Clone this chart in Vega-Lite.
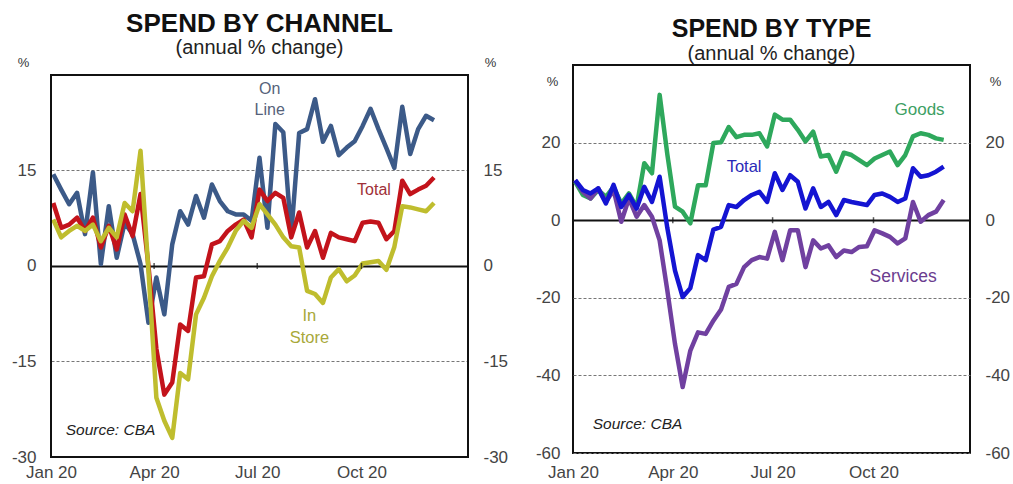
{
  "$schema": "https://vega.github.io/schema/vega-lite/v6.json",
  "padding": {"left": 11, "top": 11, "right": 5, "bottom": 0},
  "spacing": 26,
  "datasets": {
    "w": [
      {"date": "2020-01-03", "online": 14.4, "total_ch": 9.9, "instore": 7.3, "goods": 9.9, "total_ty": 10.3, "services": 10.3},
      {"date": "2020-01-10", "online": 12, "total_ch": 6, "instore": 4.5, "goods": 6.5, "total_ty": 7.8, "services": 7.3},
      {"date": "2020-01-17", "online": 9.7, "total_ch": 6.5, "instore": 5.5, "goods": 5.6, "total_ty": 6.9, "services": 5.6},
      {"date": "2020-01-24", "online": 11.5, "total_ch": 7.6, "instore": 6.3, "goods": 7.8, "total_ty": 8.2, "services": 8.2},
      {"date": "2020-01-31", "online": 5, "total_ch": 5.5, "instore": 5.5, "goods": 6, "total_ty": 4.3, "services": 4.7},
      {"date": "2020-02-07", "online": 14.7, "total_ch": 7.6, "instore": 6.5, "goods": 8.6, "total_ty": 9.1, "services": 7.8},
      {"date": "2020-02-14", "online": 0.3, "total_ch": 2.9, "instore": 3.9, "goods": 4.3, "total_ty": 3.4, "services": -0.4},
      {"date": "2020-02-21", "online": 9.4, "total_ch": 6.3, "instore": 6, "goods": 6.9, "total_ty": 6.5, "services": 5.6},
      {"date": "2020-02-28", "online": 1.3, "total_ch": 2.6, "instore": 4.5, "goods": 3.4, "total_ty": 3, "services": 0.9},
      {"date": "2020-03-06", "online": 6.8, "total_ch": 8.1, "instore": 9.9, "goods": 14.7, "total_ty": 8.6, "services": 3.9},
      {"date": "2020-03-13", "online": 5, "total_ch": 4.7, "instore": 8.6, "goods": 12.1, "total_ty": 4.7, "services": 0.9},
      {"date": "2020-03-20", "online": 0.3, "total_ch": 11.3, "instore": 18.1, "goods": 32.3, "total_ty": 11.2, "services": -5.2},
      {"date": "2020-03-27", "online": -8.9, "total_ch": 0, "instore": -0.8, "goods": 17, "total_ty": -2, "services": -18.1},
      {"date": "2020-04-03", "online": -1.8, "total_ch": -13, "instore": -20.7, "goods": 3.5, "total_ty": -13, "services": -31.9},
      {"date": "2020-04-10", "online": -7.6, "total_ch": -20.2, "instore": -24.3, "goods": 2.2, "total_ty": -19.8, "services": -43},
      {"date": "2020-04-17", "online": 3.4, "total_ch": -18.3, "instore": -27, "goods": -0.8, "total_ty": -17.5, "services": -33.6},
      {"date": "2020-04-24", "online": 8.6, "total_ch": -9.2, "instore": -16.8, "goods": 9, "total_ty": -9, "services": -28.9},
      {"date": "2020-05-01", "online": 6.5, "total_ch": -10.2, "instore": -17.8, "goods": 9, "total_ty": -10.3, "services": -29.3},
      {"date": "2020-05-08", "online": 11, "total_ch": -1.8, "instore": -7.6, "goods": 19.9, "total_ty": -2.4, "services": -25.9},
      {"date": "2020-05-15", "online": 7.6, "total_ch": -1.6, "instore": -5, "goods": 20.1, "total_ty": -1.7, "services": -23},
      {"date": "2020-05-22", "online": 12.8, "total_ch": 3.4, "instore": -1.6, "goods": 24, "total_ty": 3.9, "services": -17.2},
      {"date": "2020-05-29", "online": 10.2, "total_ch": 3.9, "instore": 0.8, "goods": 21.4, "total_ty": 3.4, "services": -16.4},
      {"date": "2020-06-05", "online": 8.6, "total_ch": 5.5, "instore": 2.9, "goods": 22, "total_ty": 5.2, "services": -12.1},
      {"date": "2020-06-12", "online": 8.1, "total_ch": 6.5, "instore": 5.5, "goods": 22, "total_ty": 6.5, "services": -10.3},
      {"date": "2020-06-19", "online": 8.1, "total_ch": 7.3, "instore": 7.1, "goods": 22.4, "total_ty": 7.3, "services": -9.5},
      {"date": "2020-06-26", "online": 7.1, "total_ch": 4.5, "instore": 6, "goods": 19, "total_ty": 4.7, "services": -9.9},
      {"date": "2020-07-03", "online": 17, "total_ch": 12, "instore": 9.7, "goods": 27.2, "total_ty": 12.1, "services": -3},
      {"date": "2020-07-10", "online": 6, "total_ch": 10.2, "instore": 8.1, "goods": 25.9, "total_ty": 7.8, "services": -10.3},
      {"date": "2020-07-17", "online": 22.3, "total_ch": 11.5, "instore": 6.5, "goods": 25.9, "total_ty": 11.6, "services": -2.6},
      {"date": "2020-07-24", "online": 21, "total_ch": 10.7, "instore": 4.5, "goods": 23.3, "total_ty": 9.9, "services": -2.6},
      {"date": "2020-07-31", "online": 5, "total_ch": 4.5, "instore": 3.1, "goods": 20.3, "total_ty": 3, "services": -12.1},
      {"date": "2020-08-07", "online": 20.9, "total_ch": 8.4, "instore": 2.9, "goods": 22.8, "total_ty": 8.2, "services": -5.2},
      {"date": "2020-08-14", "online": 21.5, "total_ch": 2.9, "instore": -3.9, "goods": 16.4, "total_ty": 3.4, "services": -7.3},
      {"date": "2020-08-21", "online": 26.2, "total_ch": 5.5, "instore": -4.4, "goods": 16.8, "total_ty": 4.7, "services": -6.5},
      {"date": "2020-08-28", "online": 19.5, "total_ch": 1.3, "instore": -5.8, "goods": 12.5, "total_ty": 1.3, "services": -9.5},
      {"date": "2020-09-04", "online": 22, "total_ch": 5.2, "instore": -1.8, "goods": 17.4, "total_ty": 5.2, "services": -7.8},
      {"date": "2020-09-11", "online": 17.4, "total_ch": 4.5, "instore": -0.5, "goods": 16.8, "total_ty": 4.7, "services": -8.2},
      {"date": "2020-09-18", "online": 18.6, "total_ch": 4.2, "instore": -2.4, "goods": 15.5, "total_ty": 4.3, "services": -6.9},
      {"date": "2020-09-25", "online": 19.6, "total_ch": 3.9, "instore": -1.5, "goods": 14.2, "total_ty": 3.9, "services": -6.7},
      {"date": "2020-10-02", "online": 22, "total_ch": 6.8, "instore": 0.4, "goods": 15.9, "total_ty": 6.5, "services": -2.6},
      {"date": "2020-10-09", "online": 24.7, "total_ch": 7.0, "instore": 0.6, "goods": 16.8, "total_ty": 6.9, "services": -3.4},
      {"date": "2020-10-16", "online": 21.5, "total_ch": 6.8, "instore": 0.8, "goods": 17.7, "total_ty": 6, "services": -4.3},
      {"date": "2020-10-23", "online": 18.5, "total_ch": 4.2, "instore": -0.6, "goods": 14.2, "total_ty": 4.7, "services": -6},
      {"date": "2020-10-30", "online": 15.4, "total_ch": 5.5, "instore": 3, "goods": 16.8, "total_ty": 5.6, "services": -4.7},
      {"date": "2020-11-06", "online": 25, "total_ch": 13.4, "instore": 9.4, "goods": 21.6, "total_ty": 13.4, "services": 4.7},
      {"date": "2020-11-13", "online": 17.6, "total_ch": 11.3, "instore": 9.2, "goods": 22.4, "total_ty": 11.2, "services": -0.4},
      {"date": "2020-11-20", "online": 21.5, "total_ch": 12, "instore": 8.9, "goods": 22, "total_ty": 11.6, "services": 1.3},
      {"date": "2020-11-27", "online": 23.6, "total_ch": 12.6, "instore": 8.6, "goods": 21.1, "total_ty": 12.5, "services": 2.2},
      {"date": "2020-12-04", "online": 22.9, "total_ch": 13.9, "instore": 9.9, "goods": 20.7, "total_ty": 13.8, "services": 5.2}
    ],
    "qtr": [
      {"m": "2020-04-01"}, {"m": "2020-07-01"}, {"m": "2020-10-01"}
    ],
    "one": [{}]
  },
  "hconcat": [
    {
      "width": 417,
      "height": 392,
      "view": {"stroke": null},
      "title": {
        "text": "SPEND BY CHANNEL",
        "subtitle": "(annual % change)",
        "fontSize": 26,
        "fontWeight": "bold",
        "color": "#111",
        "subtitleFontSize": 20,
        "subtitleColor": "#222",
        "subtitlePadding": 1,
        "anchor": "middle",
        "offset": -2
      },
      "layer": [
        {
          "data": {"name": "w"},
          "transform": [{"fold": ["online", "total_ch", "instore"], "as": ["series", "value"]}],
          "mark": {"type": "line", "strokeWidth": 4.5, "strokeJoin": "round", "clip": true},
          "encoding": {
            "x": {
              "field": "date", "type": "temporal",
              "scale": {"domain": [{"year": 2020, "month": 1, "date": 1}, {"year": 2021, "month": 1, "date": 3}]},
              "axis": {
                "values": [{"year": 2020, "month": 1, "date": 1}, {"year": 2020, "month": 4, "date": 1}, {"year": 2020, "month": 7, "date": 1}, {"year": 2020, "month": 10, "date": 1}],
                "format": "%b %y", "title": null, "labelPadding": 7, "labelFlush": false, "labelOverlap": false, "grid": false
              }
            },
            "y": {
              "field": "value", "type": "quantitative",
              "scale": {"domain": [-30, 31.57], "nice": false, "zero": false},
              "axis": {
                "values": [-30, -15, 0, 15], "labelExpr": "'' + datum.value", "title": "%", "titleAngle": 0, "titleX": -28, "titleY": -3,
                "titleAlign": "center", "titleBaseline": "middle", "labelPadding": 15,
                "grid": true,
                "gridColor": {"condition": {"test": "datum.value === 0", "value": "#111"}, "value": "#777"},
                "gridDash": {"condition": {"test": "datum.value === 0", "value": []}, "value": [3, 2]},
                "gridWidth": {"condition": {"test": "datum.value === 0", "value": 2}, "value": 1}
              }
            },
            "color": {
              "field": "series", "type": "nominal",
              "scale": {"domain": ["online", "total_ch", "instore"], "range": ["#3c5a88", "#c3131b", "#bfbd2e"]},
              "legend": null
            }
          }
        },
        {
          "data": {"name": "qtr"},
          "mark": {"type": "tick", "orient": "vertical", "size": 6, "thickness": 1.5, "color": "#111"},
          "encoding": {
            "x": {"field": "m", "type": "temporal"},
            "y": {
              "datum": 0, "type": "quantitative",
              "axis": {"orient": "right", "values": [-30, -15, 0, 15], "labelExpr": "'' + datum.value", "title": "%", "titleAngle": 0, "titleX": 22, "titleY": -3,
                "titleAlign": "center", "titleBaseline": "middle", "labelPadding": 15, "grid": false}
            }
          }
        },
        {
          "data": {"name": "one"},
          "mark": {"type": "text", "color": "#56627a", "fontSize": 16, "lineHeight": 21, "align": "center", "baseline": "middle"},
          "encoding": {
            "x": {"datum": {"year": 2020, "month": 7, "date": 12}, "type": "temporal"},
            "y": {"datum": 27.8, "type": "quantitative", "axis": null},
            "text": {"value": ["On", "Line"]}
          }
        },
        {
          "data": {"name": "one"},
          "mark": {"type": "text", "color": "#a03038", "fontSize": 16, "align": "center", "baseline": "middle"},
          "encoding": {
            "x": {"datum": {"year": 2020, "month": 10, "date": 12}, "type": "temporal"},
            "y": {"datum": 11.9, "type": "quantitative", "axis": null},
            "text": {"value": "Total"}
          }
        },
        {
          "data": {"name": "one"},
          "mark": {"type": "text", "color": "#a8a83a", "fontSize": 16.5, "lineHeight": 22, "align": "center", "baseline": "middle"},
          "encoding": {
            "x": {"datum": {"year": 2020, "month": 8, "date": 16}, "type": "temporal"},
            "y": {"datum": -7.85, "type": "quantitative", "axis": null},
            "text": {"value": ["In", "Store"]}
          }
        },
        {
          "data": {"name": "one"},
          "mark": {"type": "text", "color": "#222", "fontSize": 15.5, "fontStyle": "italic", "align": "left", "baseline": "alphabetic"},
          "encoding": {
            "x": {"datum": {"year": 2020, "month": 1, "date": 14}, "type": "temporal"},
            "y": {"datum": -26.5, "type": "quantitative", "axis": null},
            "text": {"value": "Source: CBA"}
          }
        },
        {
          "data": {"name": "one"},
          "mark": {"type": "rect", "filled": false, "stroke": "#111", "strokeWidth": 2},
          "encoding": {
            "x": {"datum": {"year": 2020, "month": 1, "date": 1}, "type": "temporal"},
            "x2": {"datum": {"year": 2021, "month": 1, "date": 3}},
            "y": {"datum": -30, "type": "quantitative", "axis": null},
            "y2": {"datum": 30}
          }
        }
      ],
      "resolve": {"scale": {"y": "shared"}, "axis": {"y": "independent"}}
    },
    {
      "width": 397,
      "height": 388,
      "title": {
        "text": "SPEND BY TYPE",
        "subtitle": "(annual % change)",
        "fontSize": 25,
        "fontWeight": "bold",
        "color": "#111",
        "subtitleFontSize": 20,
        "subtitleColor": "#222",
        "subtitlePadding": 2,
        "anchor": "middle",
        "offset": 1
      },
      "layer": [
        {
          "data": {"name": "w"},
          "transform": [{"fold": ["goods", "services", "total_ty"], "as": ["kind", "value"]}],
          "mark": {"type": "line", "strokeWidth": 4.5, "strokeJoin": "round", "clip": true},
          "encoding": {
            "x": {
              "field": "date", "type": "temporal",
              "scale": {"domain": [{"year": 2020, "month": 1, "date": 1}, {"year": 2020, "month": 12, "date": 28}]},
              "axis": {
                "values": [{"year": 2020, "month": 1, "date": 1}, {"year": 2020, "month": 4, "date": 1}, {"year": 2020, "month": 7, "date": 1}, {"year": 2020, "month": 10, "date": 1}],
                "format": "%b %y", "title": null, "labelPadding": 11, "labelFlush": false, "labelOverlap": false, "grid": false
              }
            },
            "y": {
              "field": "value", "type": "quantitative",
              "scale": {"domain": [-60, 40], "nice": false},
              "axis": {
                "values": [-60, -40, -20, 0, 20], "labelExpr": "'' + datum.value", "title": "%", "titleAngle": 0, "titleX": -21, "titleY": 16,
                "titleAlign": "center", "titleBaseline": "middle", "labelPadding": 13,
                "grid": true,
                "gridColor": {"condition": {"test": "datum.value === 0", "value": "#111"}, "value": "#777"},
                "gridDash": {"condition": {"test": "datum.value === 0", "value": []}, "value": [3, 2]},
                "gridWidth": {"condition": {"test": "datum.value === 0", "value": 2}, "value": 1}
              }
            },
            "color": {
              "field": "kind", "type": "nominal",
              "scale": {"domain": ["goods", "services", "total_ty"], "range": ["#2ea85c", "#7040a0", "#1414d2"]},
              "legend": null
            }
          }
        },
        {
          "data": {"name": "qtr"},
          "mark": {"type": "tick", "orient": "vertical", "size": 6, "thickness": 1.5, "color": "#111"},
          "encoding": {
            "x": {"field": "m", "type": "temporal"},
            "y": {
              "datum": 0, "type": "quantitative",
              "axis": {"orient": "right", "values": [-60, -40, -20, 0, 20], "labelExpr": "'' + datum.value", "title": "%", "titleAngle": 0, "titleX": 25, "titleY": 16,
                "titleAlign": "center", "titleBaseline": "middle", "labelPadding": 15, "grid": false}
            }
          }
        },
        {
          "data": {"name": "one"},
          "mark": {"type": "text", "color": "#3da064", "fontSize": 17, "align": "center", "baseline": "middle"},
          "encoding": {
            "x": {"datum": {"year": 2020, "month": 11, "date": 12}, "type": "temporal"},
            "y": {"datum": 28.4, "type": "quantitative", "axis": null},
            "text": {"value": "Goods"}
          }
        },
        {
          "data": {"name": "one"},
          "mark": {"type": "text", "color": "#2a2ab8", "fontSize": 16.5, "align": "center", "baseline": "middle"},
          "encoding": {
            "x": {"datum": {"year": 2020, "month": 6, "date": 5}, "type": "temporal"},
            "y": {"datum": 13.7, "type": "quantitative", "axis": null},
            "text": {"value": "Total"}
          }
        },
        {
          "data": {"name": "one"},
          "mark": {"type": "text", "color": "#6b3d8f", "fontSize": 17.5, "align": "center", "baseline": "middle"},
          "encoding": {
            "x": {"datum": {"year": 2020, "month": 10, "date": 28}, "type": "temporal"},
            "y": {"datum": -14.7, "type": "quantitative", "axis": null},
            "text": {"value": "Services"}
          }
        },
        {
          "data": {"name": "one"},
          "mark": {"type": "text", "color": "#222", "fontSize": 15.5, "fontStyle": "italic", "align": "left", "baseline": "alphabetic"},
          "encoding": {
            "x": {"datum": {"year": 2020, "month": 1, "date": 19}, "type": "temporal"},
            "y": {"datum": -53.9, "type": "quantitative", "axis": null},
            "text": {"value": "Source: CBA"}
          }
        }
      ],
      "resolve": {"scale": {"y": "shared"}, "axis": {"y": "independent"}}
    }
  ],
  "resolve": {"scale": {"color": "independent"}},
  "config": {
    "font": "Liberation Sans",
    "background": "white",
    "view": {"stroke": "#111", "strokeWidth": 2},
    "axis": {
      "domain": false, "ticks": false, "labelFontSize": 17, "labelColor": "#444",
      "titleFontSize": 13, "titleFontWeight": "normal", "titleColor": "#333"
    }
  }
}
